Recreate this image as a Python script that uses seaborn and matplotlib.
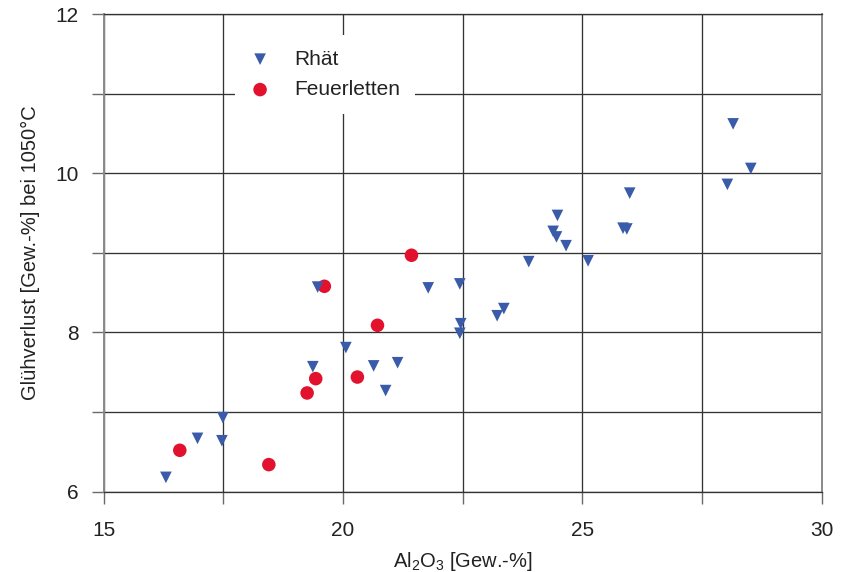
import matplotlib
matplotlib.use("Agg")
import matplotlib.pyplot as plt
import seaborn as sns
import pandas as pd
from matplotlib.ticker import FixedLocator, FixedFormatter

# ---- data ----
al2o3_rhaet = [16.30, 16.96, 17.47, 17.49, 19.37, 19.47, 20.06, 20.64, 20.89, 21.14,
               21.78, 22.44, 22.46, 22.44, 23.22, 23.36, 23.88, 24.39, 24.46, 24.48,
               24.66, 25.12, 25.85, 25.93, 25.99, 28.03, 28.15, 28.52]
lgv_rhaet = [6.18, 6.67, 6.64, 6.93, 7.57, 8.57, 7.81, 7.58, 7.27, 7.62,
             8.56, 8.61, 8.11, 7.99, 8.21, 8.30, 8.89, 9.27, 9.20, 9.47,
             9.09, 8.90, 9.31, 9.30, 9.75, 9.86, 10.62, 10.06]
al2o3_feuer = [16.59, 18.45, 19.25, 19.43, 19.61, 20.30, 20.72, 21.43]
lgv_feuer = [6.52, 6.34, 7.24, 7.42, 8.58, 7.44, 8.09, 8.97]

x_ticks = [15, 17.5, 20, 22.5, 25, 27.5, 30]
x_ticklabels = ["15", "", "20", "", "25", "", "30"]
y_ticks = [6, 7, 8, 9, 10, 11, 12]
y_ticklabels = ["6", "", "8", "", "10", "", "12"]

df_r = pd.DataFrame({"Al2O3": al2o3_rhaet, "LOI": lgv_rhaet, "Gruppe": "Rhät"})
df_f = pd.DataFrame({"Al2O3": al2o3_feuer, "LOI": lgv_feuer, "Gruppe": "Feuerletten"})

sns.set_theme(style="white")
plt.rcParams["font.family"] = ["Liberation Sans", "DejaVu Sans"]
plt.rcParams["mathtext.fontset"] = "custom"
plt.rcParams["mathtext.rm"] = "Liberation Sans"
plt.rcParams["mathtext.it"] = "Liberation Sans"

fig = plt.figure(figsize=(8.41, 5.72), dpi=100)
ax = fig.add_axes([0.1233, 0.1404, 0.8537, 0.8351])

blue = "#3a5ba9"
red = "#e2122e"

sns.scatterplot(data=df_r, x="Al2O3", y="LOI", marker="v", color=blue, s=70,
                edgecolor="none", linewidth=0, ax=ax, label="Rhät", zorder=4)
sns.scatterplot(data=df_f, x="Al2O3", y="LOI", marker="o", color=red, s=95,
                edgecolor="none", linewidth=0, ax=ax, label="Feuerletten", zorder=3)

ax.set_xlim(15, 30)
ax.set_ylim(6, 12)
ax.xaxis.set_major_locator(FixedLocator(x_ticks))
ax.xaxis.set_major_formatter(FixedFormatter(x_ticklabels))
ax.yaxis.set_major_locator(FixedLocator(y_ticks))
ax.yaxis.set_major_formatter(FixedFormatter(y_ticklabels))

ax.grid(True, color="#333333", linewidth=0.95, zorder=1)
ax.set_axisbelow(True)
for side, sp in ax.spines.items():
    sp.set_visible(True)
    sp.set_color("#8a8a8a")
    sp.set_linewidth(1.4)
ax.spines["top"].set_color("#333333")
ax.spines["top"].set_linewidth(0.95)
ax.spines["bottom"].set_color("#333333")
ax.spines["bottom"].set_linewidth(0.95)

ax.tick_params(axis="both", which="major", direction="out", length=8.6, width=1.0,
               color="#6a6a6a", labelsize=15, labelcolor="#222222")
ax.tick_params(axis="x", pad=12.5)
ax.tick_params(axis="y", pad=9.5)
ax.tick_params(bottom=True, left=True)

ax.set_xlabel(r"Al$_2$O$_3$ [Gew.-%]", fontsize=14.5, color="#222222", labelpad=7)
ax.set_ylabel("Glühverlust [Gew.-%] bei 1050°C", fontsize=14.5, color="#222222", labelpad=11)

leg = ax.legend(loc="upper left", bbox_to_anchor=(0.183, 0.956), borderaxespad=0,
                frameon=True, facecolor="white", edgecolor="none", framealpha=1,
                fontsize=15, handlelength=1.0, handletextpad=1.15, labelspacing=0.55,
                borderpad=0.7, markerscale=1.0)
leg.set_zorder(5)
for t in leg.get_texts():
    t.set_color("#222222")

fig.savefig("out.png", dpi=100)
